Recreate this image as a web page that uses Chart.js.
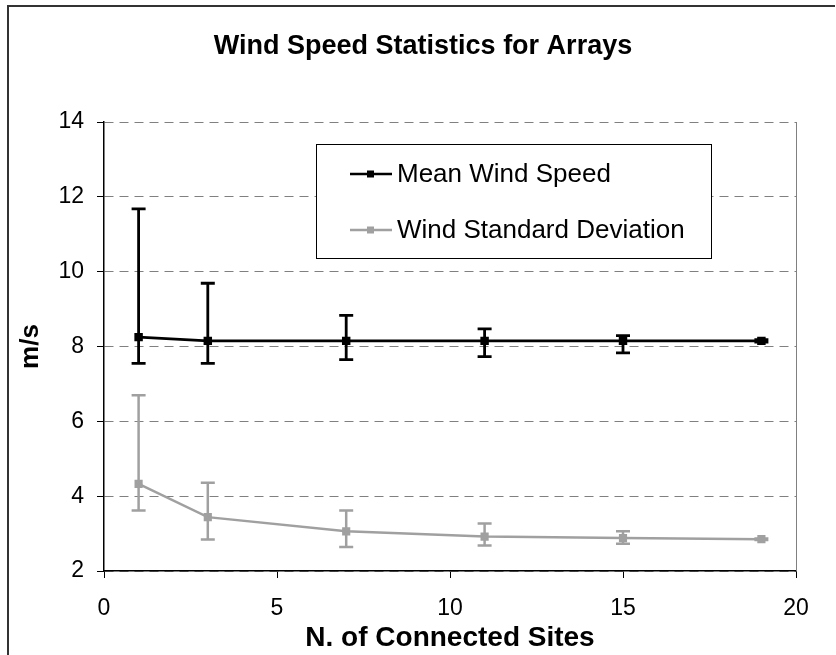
<!DOCTYPE html>
<html>
<head>
<meta charset="utf-8">
<script src="https://cdn.jsdelivr.net/npm/chart.js@4"></script>
<style>
  html, body { margin: 0; padding: 0; background: #fff; }
  #wrap { width: 836px; height: 655px; }
</style>
</head>
<body>
<div id="wrap"><canvas id="windChart" width="836" height="655"></canvas></div>
<script>
// ===== DATA =====
const sites = [1, 3, 7, 11, 15, 19];
const meanSpeed = [8.25, 8.15, 8.15, 8.15, 8.15, 8.15];
const meanLow = [7.55, 7.55, 7.65, 7.73, 7.83, 8.12];
const meanHigh = [11.68, 9.69, 8.83, 8.47, 8.29, 8.18];
const stdDev = [4.33, 3.44, 3.06, 2.92, 2.88, 2.85];
const stdLow = [3.62, 2.84, 2.64, 2.68, 2.73, 2.83];
const stdHigh = [6.70, 4.36, 3.62, 3.27, 3.06, 2.87];
const xTicks = [0, 5, 10, 15, 20];
const yTicks = [2, 4, 6, 8, 10, 12, 14];

const FONT = "Liberation Sans, Arial, sans-serif";
const GREY = '#a0a0a0';

// ===== ERROR BARS + FRAME + LEGEND =====
const extras = {
    id: 'extras',
    afterDatasetsDraw(chart) {
        const ctx = chart.ctx;
        const xs = chart.scales.x, ys = chart.scales.y;
        const bars = [
            {lo: meanLow, hi: meanHigh, color: '#000', width: 2.8},
            {lo: stdLow, hi: stdHigh, color: GREY, width: 2.5}
        ];
        ctx.save();
        bars.forEach(function(b){
            ctx.strokeStyle = b.color;
            ctx.lineWidth = b.width;
            sites.forEach(function(s, i){
                const px = xs.getPixelForValue(s);
                const top = ys.getPixelForValue(b.hi[i]);
                const bot = ys.getPixelForValue(b.lo[i]);
                ctx.beginPath();
                ctx.moveTo(px, top); ctx.lineTo(px, bot);
                ctx.moveTo(px - 7, top); ctx.lineTo(px + 7, top);
                ctx.moveTo(px - 7, bot); ctx.lineTo(px + 7, bot);
                ctx.stroke();
            });
        });
        ctx.restore();
    },
    afterDraw(chart) {
        const ctx = chart.ctx;
        const a = chart.chartArea;
        ctx.save();
        // right edge of plot area
        ctx.strokeStyle = '#808080';
        ctx.lineWidth = 1;
        ctx.beginPath();
        ctx.moveTo(a.right + 0.5, a.top); ctx.lineTo(a.right + 0.5, a.bottom);
        ctx.stroke();
        // outer frame
        ctx.strokeStyle = '#333';
        ctx.lineWidth = 2;
        ctx.beginPath();
        ctx.moveTo(8, 655); ctx.lineTo(8, 6); ctx.lineTo(835, 6);
        ctx.stroke();

        // legend box
        const lx = 316, ly = 144, lw = 395, lh = 114;
        ctx.fillStyle = '#fff';
        ctx.fillRect(lx, ly, lw, lh);
        ctx.strokeStyle = '#000';
        ctx.lineWidth = 1;
        ctx.strokeRect(lx + 0.5, ly + 0.5, lw, lh);
        const rows = [174, 230];
        chart.data.datasets.forEach(function(ds, i){
            const y = rows[i];
            ctx.strokeStyle = ds.borderColor;
            ctx.lineWidth = 2.5;
            ctx.beginPath();
            ctx.moveTo(350, y); ctx.lineTo(392, y);
            ctx.stroke();
            ctx.fillStyle = ds.backgroundColor;
            ctx.fillRect(367, y - 3.5, 7, 7);
            ctx.fillStyle = '#000';
            ctx.font = '26px ' + FONT;
            ctx.textBaseline = 'middle';
            ctx.textAlign = 'left';
            ctx.fillText(ds.label, 397, y + 1);
        });
        ctx.restore();
    }
};

const ctx = document.getElementById('windChart').getContext('2d');

new Chart(ctx, {
    type: 'line',
    data: {
        datasets: [{
            label: 'Mean Wind Speed',
            data: sites.map((s, i) => ({x: s, y: meanSpeed[i]})),
            borderColor: '#000',
            backgroundColor: '#000',
            borderWidth: 2.8,
            pointStyle: 'rect',
            pointRadius: 4,
            tension: 0
        }, {
            label: 'Wind Standard Deviation',
            data: sites.map((s, i) => ({x: s, y: stdDev[i]})),
            borderColor: GREY,
            backgroundColor: GREY,
            borderWidth: 2.5,
            pointStyle: 'rect',
            pointRadius: 4,
            tension: 0
        }]
    },
    options: {
        responsive: false,
        animation: false,
        layout: { padding: { left: 10, right: 0, top: 0, bottom: 0 } },
        plugins: {
            legend: { display: false },
            tooltip: { enabled: false },
            title: {
                display: true,
                text: 'Wind Speed Statistics for Arrays',
                color: '#000',
                font: { family: FONT, size: 27, weight: 'bold' },
                padding: { top: 30, bottom: 59.6 }
            }
        },
        scales: {
            x: {
                type: 'linear',
                min: 0, max: 20,
                afterBuildTicks: function(scale){ scale.ticks = xTicks.map(v => ({value: v})); },
                afterFit: function(scale){ scale.height = 84; },
                grid: { drawOnChartArea: false, drawTicks: true, tickLength: 7, tickColor: '#000' },
                border: { color: '#000', width: 1.5 },
                ticks: { color: '#000', font: { family: FONT, size: 23 }, padding: 17, maxRotation: 0 },
                title: {
                    display: true,
                    text: 'N. of Connected Sites',
                    color: '#000',
                    font: { family: FONT, size: 28, weight: 'bold' },
                    padding: { top: 0, bottom: 0 }
                }
            },
            y: {
                min: 2, max: 14,
                afterBuildTicks: function(scale){ scale.ticks = yTicks.map(v => ({value: v})); },
                afterFit: function(scale){ scale.width = 94; },
                grid: {
                    color: '#808080', lineWidth: 1,
                    tickBorderDash: [],
                    tickColor: '#000', tickLength: 7
                },
                border: { color: '#000', width: 1.5, dash: [9, 6] },
                ticks: { color: '#000', font: { family: FONT, size: 23 }, padding: 13 },
                title: {
                    display: true,
                    text: 'm/s',
                    color: '#000',
                    font: { family: FONT, size: 26, weight: 'bold' },
                    padding: { top: 5, bottom: 0 }
                }
            },
            y2: {
                position: 'right',
                display: true,
                grid: { display: false },
                border: { display: false },
                ticks: { display: false },
                afterFit: function(scale){ scale.width = 40; }
            }
        }
    },
    plugins: [extras]
});
</script>
</body>
</html>
